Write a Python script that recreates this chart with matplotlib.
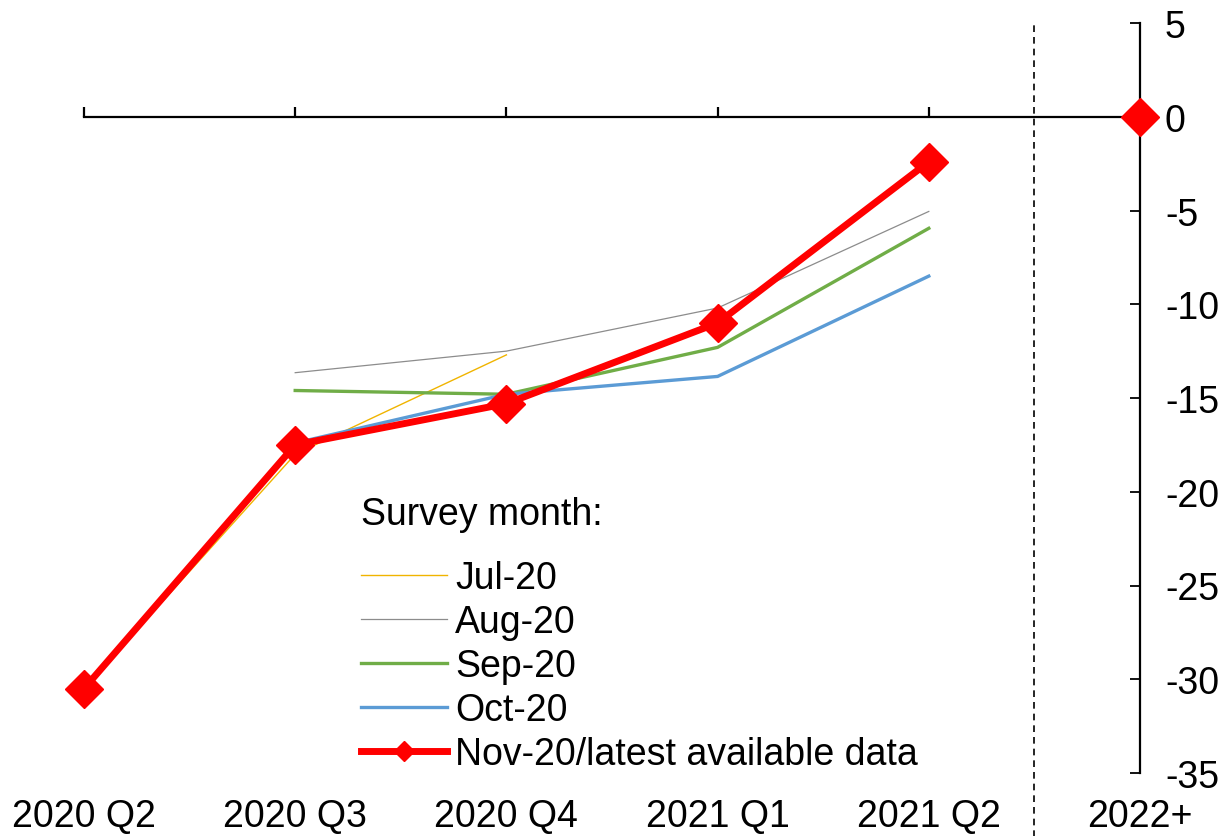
import numpy as np
import matplotlib
matplotlib.use("Agg")
import matplotlib.pyplot as plt
import matplotlib.transforms as mtransforms

plt.rcParams['font.family'] = ['Liberation Sans', 'DejaVu Sans']
plt.rcParams['axes.unicode_minus'] = False

# Categorías del eje x
trimestres = ["2020 Q2", "2020 Q3", "2020 Q4", "2021 Q1", "2021 Q2", "2022+"]

# Expectativas por mes de encuesta (NaN = sin dato)
jul20 = [-30.5, -18.0, -12.7, np.nan, np.nan, np.nan]
aug20 = [np.nan, -13.65, -12.5, -10.2, -5.05, np.nan]
sep20 = [np.nan, -14.6, -14.8, -12.3, -5.95, np.nan]
oct20 = [np.nan, -17.4, -14.8, -13.85, -8.5, np.nan]
nov20 = [-30.5, -17.5, -15.3, -11.0, -2.4, 0.0]

fs = 27
x = np.arange(len(trimestres))

fig = plt.figure(figsize=(12.29, 8.37), dpi=100)
ax = fig.add_axes([84/1229, 1 - 774/837, (1140-84)/1229, (774-24)/837])

ax.plot(x, jul20, color="#F0B400", lw=1.0, label="Jul-20", zorder=2)
ax.plot(x, aug20, color="#8C8C8C", lw=0.9, label="Aug-20", zorder=2)
ax.plot(x, sep20, color="#70AD47", lw=2.4, label="Sep-20", zorder=2)
ax.plot(x, oct20, color="#5B9BD5", lw=2.4, label="Oct-20", zorder=2)
ax.plot(x[:5], nov20[:5], color="#FF0000", lw=5, marker="D", markersize=19,
        label="Nov-20/latest available data", zorder=4, clip_on=False)
ax.plot(x[5:], nov20[5:], color="#FF0000", lw=0, marker="D", markersize=19,
        zorder=5, clip_on=False)

ax.set_xlim(0, 5)
ax.set_ylim(-35, 5)
ax.set_yticks(np.arange(-35, 6, 5))

# Ejes
ax.spines["left"].set_visible(False)
ax.spines["top"].set_visible(False)
ax.spines["bottom"].set_position(("data", 0))
ax.spines["bottom"].set_linewidth(1.6)
ax.spines["right"].set_linewidth(1.6)
ax.yaxis.tick_right()
ax.tick_params(axis="y", direction="in", length=7.5, width=1.3, pad=18, labelsize=fs)
for lab in ax.get_yticklabels():
    lab.set_horizontalalignment("left")
ax.set_xticks(x)
ax.tick_params(axis="x", direction="in", length=7.5, width=1.6, labelbottom=False)

# Etiquetas de las categorías abajo
trans = mtransforms.blended_transform_factory(ax.transData, ax.transAxes)
for xi, t in zip(x, trimestres):
    ax.text(xi, -0.058, t, transform=trans, ha="center", va="center", fontsize=fs)

# Línea discontinua vertical
ax.plot([4.5, 4.5], [-0.09, 1.003], transform=trans, color="black", lw=1.2,
        ls=(0, (4, 3)), clip_on=False, zorder=1)

leg = ax.legend(loc="upper left", bbox_to_anchor=(0.262, 0.369), frameon=False,
                fontsize=fs, title="Survey month:", title_fontsize=fs,
                handlelength=2.3, handletextpad=0.22, labelspacing=0.215,
                borderpad=0, borderaxespad=0, alignment="left", markerscale=0.55)
leg._legend_box.sep = 20

fig.savefig("out.png", dpi=100)
